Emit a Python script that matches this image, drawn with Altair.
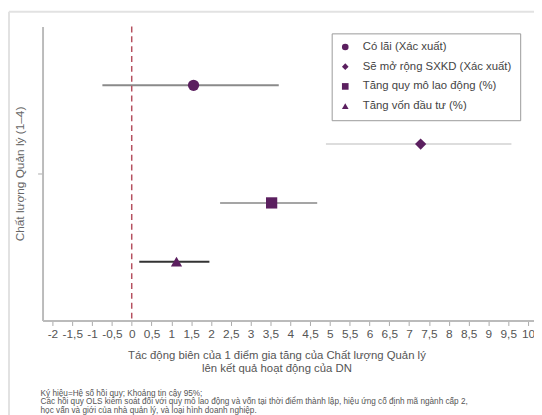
import altair as alt
import pandas as pd

categories = ["Có lãi (Xác xuất)", "Sẽ mở rộng SXKD (Xác xuất)",
              "Tăng quy mô lao động (%)", "Tăng vốn đầu tư (%)"]
coef = [1.56, 7.29, 3.53, 1.13]
ci_low = [-0.74, 4.90, 2.23, 0.19]
ci_high = [3.71, 9.58, 4.68, 1.96]
row = [4, 3, 2, 1]
x_ticks = [-2, -1.5, -1, -0.5, 0, 0.5, 1, 1.5, 2, 2.5, 3, 3.5, 4, 4.5, 5, 5.5,
           6, 6.5, 7, 7.5, 8, 8.5, 9, 9.5, 10]
x_title = ["Tác động biên của 1 điểm gia tăng của Chất lượng Quản lý",
           "lên kết quả hoạt động của DN"]
y_title = "Chất lượng Quản lý (1–4)"
footnote = ["Ký hiệu=Hệ số hồi quy; Khoảng tin cậy 95%;",
            "Các hồi quy OLS kiểm soát đối với quy mô lao động và vốn tại thời điểm thành lập, hiệu ứng cố định mã ngành cấp 2,",
            "học vấn và giới của nhà quản lý, và loại hình doanh nghiệp."]

df = pd.DataFrame({"cat": categories, "coef": coef, "lo": ci_low, "hi": ci_high, "row": row})

W, H = 498, 298
PURPLE = "#5b1f5f"
FONT = "Liberation Sans"

xscale = alt.Scale(domain=[-2.25, 10.15], nice=False, zero=False)
yscale = alt.Scale(domain=[0, 5], nice=False)

xaxis = alt.Axis(values=x_ticks, grid=False, labelOverlap=False, labelSeparation=0,
                 labelExpr="(datum.value < 0 ? '-' : '') + replace(toString(abs(datum.value)), '.', ',')",
                 domainColor="#bbbbbb", domainWidth=2, tickColor="#aaaaaa", tickSize=5,
                 labelColor="#555555", labelFontSize=12, labelFont=FONT, labelPadding=3,
                 title=x_title, titleFont=FONT, titleFontSize=11.5, titleFontWeight="normal",
                 titleColor="#555555", titleX=237, titleY=29, titleBaseline="top", titleLineHeight=14)
yaxis = alt.Axis(values=[2.5], labels=False, grid=False,
                 domainColor="#bbbbbb", domainWidth=2, tickColor="#aaaaaa", tickSize=5,
                 title=y_title, titleFont=FONT, titleFontSize=12, titleFontWeight="normal",
                 titleColor="#666666", titleX=-23, titleY=149, titleBaseline="middle", titleAlign="center")

bars = alt.Chart(df).mark_rule(strokeWidth=2).encode(
    x=alt.X("lo:Q", scale=xscale, axis=xaxis),
    x2="hi:Q",
    y=alt.Y("row:Q", scale=yscale, axis=yaxis),
    color=alt.Color("cat:N", scale=alt.Scale(domain=categories,
                    range=["#8a8a8a", "#dddddd", "#a5a5a5", "#333333"]), legend=None),
)

zero_line = alt.Chart(pd.DataFrame({"z": [0]})).mark_rule(
    color="#b5505f", strokeDash=[6, 4], strokeWidth=1.5).encode(
    x=alt.X("z:Q", scale=xscale, axis=xaxis))

points = alt.Chart(df).mark_point(filled=True, opacity=1, size=130).encode(
    x=alt.X("coef:Q", scale=xscale, axis=xaxis),
    y=alt.Y("row:Q", scale=yscale, axis=yaxis),
    shape=alt.Shape("cat:N", title=None, scale=alt.Scale(domain=categories,
                    range=["circle", "diamond", "square", "triangle-up"])),
    fill=alt.Fill("cat:N", title=None, scale=alt.Scale(domain=categories,
                  range=[PURPLE] * 4)),
)

frame_top = alt.Chart(pd.DataFrame({"a": [0]})).mark_rule(color="#e2e2e2", strokeWidth=2).encode(
    x=alt.value(-34), x2=alt.value(W + 10), y=alt.value(-15))
frame_left = alt.Chart(pd.DataFrame({"a": [0]})).mark_rule(color="#e2e2e2", strokeWidth=2).encode(
    x=alt.value(-34), y=alt.value(-15), y2=alt.value(H + 100))

note = alt.Chart(pd.DataFrame({"t": ["\n".join(footnote)]})).mark_text(
    align="left", baseline="top", font=FONT, fontSize=8.3, color="#555555",
    lineBreak="\n", lineHeight=8.6).encode(
    x=alt.value(-2), y=alt.value(367), text="t:N")

chart = alt.layer(frame_top, frame_left, bars, zero_line, points, note).resolve_scale(
    color="independent"
).properties(
    width=W, height=H, autosize="none",
    padding={"left": 35, "top": 16, "right": 0, "bottom": 93},
).configure_view(stroke=None).configure_axisX(
    labelOverlap=False, labelSeparation=0
).configure_legend(
    orient="none", legendX=293, legendY=7, strokeColor="#999999", padding=8,
    labelFont=FONT, labelFontSize=11.5, labelColor="#444444", symbolSize=45,
    rowPadding=7, labelOffset=12, labelLimit=300, symbolStrokeWidth=0,
)

chart.save("out.html", embed_options={"renderer": "svg", "actions": False})
